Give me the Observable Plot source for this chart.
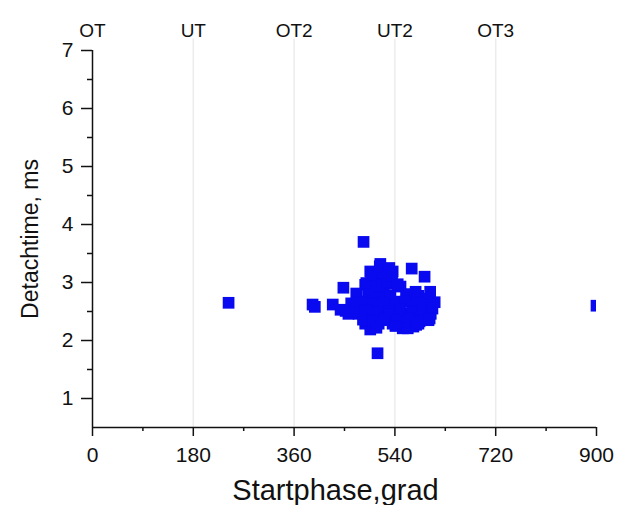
<!DOCTYPE html>
<html><head><meta charset="utf-8">
<script src="https://cdn.jsdelivr.net/npm/d3@7"></script>
<script src="https://cdn.jsdelivr.net/npm/@observablehq/plot@0.6"></script>
<style>
body{margin:0;background:#fff;font-family:"Liberation Sans",Arial,sans-serif}
</style>
</head><body><div id="chart"></div>
<script>
const phase = [243, 393, 397, 900, 484, 509, 448, 570, 593,
  429, 443, 457, 471,
  514, 496, 536, 487, 525, 550, 505, 482, 505, 520,
  479, 500, 523, 546, 568, 589, 577, 603, 560,
  475, 496, 518, 541, 564, 586, 604,
  487, 511, 536, 559, 582, 600,
  496, 554, 573, 520, 490, 530, 548, 595,
  471, 492, 511, 532, 561, 582, 598,
  462, 481, 499, 519, 541, 559, 579, 597, 611,
  452, 469, 488, 509, 531, 549, 571, 591, 607,
  483, 502, 521, 544, 566, 584, 602,
  507, 541, 563, 578,
  489, 507, 527, 545, 498, 518, 535, 513, 530];
const detach = [2.65, 2.62, 2.58, 2.60, 3.70, 1.78, 2.91, 3.24, 3.10,
  2.62, 2.53, 2.46, 2.58,
  3.32, 3.19, 3.19, 2.96, 2.98, 2.93, 2.76, 2.67, 3.05, 2.80,
  2.67, 2.67, 2.67, 2.67, 2.67, 2.67, 2.84, 2.84, 2.75,
  2.46, 2.46, 2.46, 2.46, 2.46, 2.46, 2.46,
  2.29, 2.29, 2.29, 2.29, 2.29, 2.35,
  2.19, 2.21, 2.24, 2.35, 2.35, 2.55, 2.55, 2.55,
  2.81, 2.79, 2.83, 2.78, 2.80, 2.77, 2.72,
  2.64, 2.66, 2.62, 2.65, 2.63, 2.67, 2.64, 2.62, 2.66,
  2.51, 2.49, 2.52, 2.48, 2.50, 2.53, 2.49, 2.51, 2.55,
  2.36, 2.33, 2.37, 2.34, 2.36, 2.33, 2.38,
  2.22, 2.25, 2.21, 2.27,
  2.99, 2.95, 3.01, 2.97, 3.14, 3.17, 3.12, 3.28, 3.25];
const xTicks = [0, 180, 360, 540, 720, 900];
const xMinor = [90, 270, 450, 630, 810];
const yTicks = [1, 2, 3, 4, 5, 6, 7];
const yMinor = [1.5, 2.5, 3.5, 4.5, 5.5, 6.5];
const phaseNames = ["OT", "UT", "OT2", "UT2", "OT3"];
const phasePos = [0, 180, 360, 540, 720];
const gridPos = [180, 360, 540, 720];
const xTitle = "Startphase,grad";
const yTitle = "Detachtime, ms";

const points = phase.map((p, i) => ({p, d: detach[i]}));
const names = phaseNames.map((n, i) => ({n, x: phasePos[i]}));

const chart = Plot.plot({
  width: 619, height: 505,
  marginLeft: 92, marginRight: 23, marginTop: 50, marginBottom: 78,
  style: {fontFamily: "Liberation Sans, Arial, sans-serif", fontSize: "21px", color: "#111"},
  x: {domain: [0, 900]},
  y: {domain: [0.5, 7]},
  marks: [
    Plot.ruleX(gridPos, {stroke: "#ececec", strokeWidth: 1.5, y1: 0.5, y2: 7.2}),
    Plot.dot(points, {x: "p", y: "d", symbol: "square", r: 6.6, fill: "#0a0af0", stroke: "none", clip: true}),
    Plot.ruleY([0.5], {stroke: "#111", strokeWidth: 1.5}),
    Plot.ruleX([0], {stroke: "#111", strokeWidth: 1.5}),
    Plot.axisX({ticks: xTicks, tickSize: 9, tickPadding: 11, strokeWidth: 1.5, label: null}),
    Plot.axisX({ticks: xMinor, tickSize: 4, tickFormat: () => "", label: null, strokeWidth: 1.5}),
    Plot.axisY({ticks: yTicks, tickSize: 11, tickPadding: 8, strokeWidth: 1.5, tickFormat: d3.format("d"), label: null}),
    Plot.axisY({ticks: yMinor, tickSize: 5, tickFormat: () => "", label: null, strokeWidth: 1.5}),
    Plot.text(names, {x: "x", text: "n", frameAnchor: "top", lineAnchor: "middle", dy: -20, fontSize: 19, fill: "#111"}),
    Plot.text([xTitle], {frameAnchor: "bottom", lineAnchor: "middle", dy: 63, dx: -9, fontSize: 29, fill: "#111"}),
    Plot.text([yTitle], {frameAnchor: "left", dx: -62, rotate: -90, textAnchor: "middle", lineAnchor: "middle", fontSize: 23, fill: "#111"})
  ]
});
document.getElementById("chart").appendChild(chart);
</script>
</body></html>
